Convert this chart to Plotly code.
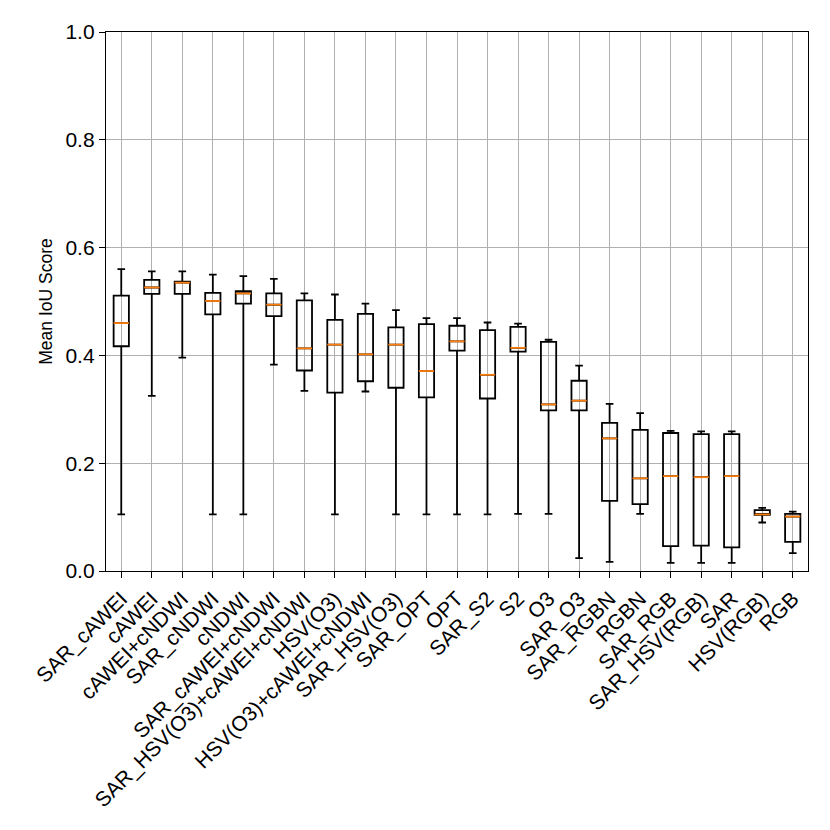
import plotly.graph_objects as go

categories = ["SAR_cAWEI", "cAWEI", "cAWEI+cNDWI", "SAR_cNDWI", "cNDWI",
              "SAR_cAWEI+cNDWI", "SAR_HSV(O3)+cAWEI+cNDWI", "HSV(O3)",
              "HSV(O3)+cAWEI+cNDWI", "SAR_HSV(O3)", "SAR_OPT", "OPT", "SAR_S2",
              "S2", "O3", "SAR_O3", "SAR_RGBN", "RGBN", "SAR_RGB", "SAR_HSV(RGB)",
              "SAR", "HSV(RGB)", "RGB"]
whisker_low = [0.105, 0.325, 0.396, 0.105, 0.105, 0.383, 0.334, 0.105, 0.333, 0.105,
               0.105, 0.105, 0.105, 0.106, 0.106, 0.024, 0.017, 0.106, 0.015, 0.015,
               0.015, 0.090, 0.033]
q1 = [0.417, 0.514, 0.514, 0.476, 0.496, 0.473, 0.372, 0.331, 0.352, 0.340,
      0.322, 0.409, 0.320, 0.407, 0.298, 0.298, 0.130, 0.124, 0.046, 0.047,
      0.044, 0.104, 0.054]
median = [0.460, 0.526, 0.535, 0.501, 0.515, 0.494, 0.413, 0.420, 0.402, 0.420,
          0.371, 0.426, 0.364, 0.414, 0.309, 0.316, 0.246, 0.172, 0.176, 0.174,
          0.176, 0.105, 0.101]
q3 = [0.511, 0.540, 0.537, 0.516, 0.519, 0.515, 0.502, 0.466, 0.477, 0.452,
      0.458, 0.455, 0.447, 0.453, 0.425, 0.353, 0.275, 0.262, 0.256, 0.254,
      0.254, 0.113, 0.106]
whisker_high = [0.560, 0.556, 0.556, 0.550, 0.547, 0.542, 0.515, 0.513, 0.496, 0.484,
                0.469, 0.469, 0.461, 0.459, 0.429, 0.381, 0.310, 0.293, 0.260, 0.259,
                0.259, 0.117, 0.110]
y_ticks = [0.0, 0.2, 0.4, 0.6, 0.8, 1.0]

BOX_W = 0.5
positions = list(range(1, len(categories) + 1))

fig = go.Figure()
for i, pos in enumerate(positions):
    fig.add_trace(go.Box(
        x=[pos], q1=[q1[i]], median=[median[i]], q3=[q3[i]],
        lowerfence=[whisker_low[i]], upperfence=[whisker_high[i]],
        width=BOX_W, whiskerwidth=0.5,
        fillcolor="rgba(0,0,0,0)", line=dict(color="black", width=1.8),
        boxpoints=False, showlegend=False, hoverinfo="skip",
    ))

mx, my = [], []
for i, pos in enumerate(positions):
    mx += [pos - BOX_W / 2, pos + BOX_W / 2, None]
    my += [median[i], median[i], None]
fig.add_trace(go.Scatter(x=mx, y=my, mode="lines",
                         line=dict(color="#ff7f0e", width=1.8),
                         showlegend=False, hoverinfo="skip"))

axis_common = dict(showline=True, linecolor="black", linewidth=1.3, mirror=True,
                   ticks="outside", ticklen=6, tickwidth=1.3, tickcolor="black",
                   showgrid=True, gridcolor="#b0b0b0", gridwidth=1.3, zeroline=False,
                   tickfont=dict(size=21))

fig.update_layout(
    width=830, height=830,
    margin=dict(l=98, r=30, t=22, b=267),
    paper_bgcolor="white", plot_bgcolor="white",
    font=dict(family="Liberation Sans, Arial, sans-serif", size=17, color="black"),
    xaxis=dict(range=[0.5, len(categories) + 0.5], tickmode="array",
               tickvals=positions, ticktext=categories, tickangle=-45,
               **axis_common),
    yaxis=dict(range=[0, 1], tickmode="array", tickvals=y_ticks,
               ticktext=[f"{v:.1f}" for v in y_ticks],
               title=dict(text="Mean IoU Score", standoff=8, font=dict(size=17.5)),
               **axis_common),
)

fig.write_html("out.html")
